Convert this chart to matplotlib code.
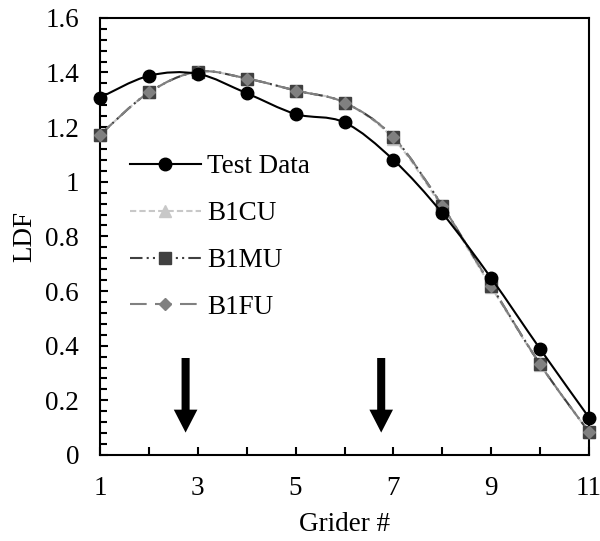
import matplotlib
matplotlib.use('Agg')
import matplotlib.pyplot as plt
from matplotlib.path import Path
from matplotlib.patches import PathPatch
from matplotlib.ticker import MultipleLocator, FixedLocator
import numpy as np

# girder distribution factors
girder = [1, 2, 3, 4, 5, 6, 7, 8, 9, 10, 11]
test_data = [1.308, 1.388, 1.395, 1.324, 1.248, 1.217, 1.080, 0.885, 0.647, 0.388, 0.137]
b1cu = [1.172, 1.327, 1.403, 1.378, 1.334, 1.290, 1.158, 0.905, 0.615, 0.330, 0.083]
b1mu = [1.172, 1.327, 1.403, 1.378, 1.334, 1.290, 1.163, 0.912, 0.620, 0.332, 0.083]
b1fu = [1.172, 1.327, 1.403, 1.378, 1.334, 1.290, 1.163, 0.912, 0.620, 0.332, 0.083]
arrow_x = [2.75, 6.75]
x_labels = [1, 3, 5, 7, 9, 11]
y_labels = ['0', '0.2', '0.4', '0.6', '0.8', '1', '1.2', '1.4', '1.6']

plt.rcParams['font.family'] = ['Liberation Serif', 'DejaVu Serif']
FS = 19.5


def smooth_path(x, y):
    # Catmull-Rom style bezier through the points (like spreadsheet smoothed lines)
    x = np.asarray(x, float)
    y = np.asarray(y, float)
    verts = [(x[0], y[0])]
    codes = [Path.MOVETO]
    n = len(x)
    for i in range(n - 1):
        p0 = (x[max(i - 1, 0)], y[max(i - 1, 0)])
        p1 = (x[i], y[i])
        p2 = (x[i + 1], y[i + 1])
        p3 = (x[min(i + 2, n - 1)], y[min(i + 2, n - 1)])
        c1 = (p1[0] + (p2[0] - p0[0]) / 6, p1[1] + (p2[1] - p0[1]) / 6)
        c2 = (p2[0] - (p3[0] - p1[0]) / 6, p2[1] - (p3[1] - p1[1]) / 6)
        verts += [c1, c2, p2]
        codes += [Path.CURVE4] * 3
    return Path(verts, codes)


fig = plt.figure(figsize=(6, 5.41), dpi=100)
ax = fig.add_axes([0.1667, 0.159, 0.815, 0.808])

series = [
    (b1cu, 'B1CU', '#c8c8c8', (0, (3, 1.5)), '^', '#c8c8c8', 9),
    (b1mu, 'B1MU', '#404040', (0, (6, 2, 1, 2, 1, 2)), 's', '#404040', 8),
    (b1fu, 'B1FU', '#808080', (0, (8, 4)), 'D', '#808080', 6.5),
]

for vals, name, col, ls, mk, mcol, ms in series:
    ax.add_patch(PathPatch(smooth_path(girder, vals), fill=False, edgecolor=col,
                           linewidth=1.5, linestyle=ls, zorder=2))
    ax.plot(girder, vals, linestyle='none', marker=mk, color=mcol, markersize=ms,
            zorder=3, clip_on=False)

ax.add_patch(PathPatch(smooth_path(girder, test_data), fill=False, edgecolor='black',
                       linewidth=1.5, zorder=4))
ax.plot(girder, test_data, linestyle='none', marker='o', color='black', markersize=9,
        zorder=5, clip_on=False)

# legend handles
handles = [ax.plot([], [], color='black', lw=1.5, marker='o', markersize=9)[0]]
for vals, name, col, ls, mk, mcol, ms in series:
    handles.append(ax.plot([], [], color=col, lw=1.5, ls=ls, marker=mk, markerfacecolor=mcol,
                           markeredgecolor=mcol, markersize=ms)[0])
ax.legend(handles, ['Test Data', 'B1CU', 'B1MU', 'B1FU'], loc='upper left',
          bbox_to_anchor=(0.012, 0.744), frameon=False, fontsize=FS, handlelength=2.6,
          labelspacing=0.81, handletextpad=0.25)

for xa in arrow_x:
    ax.annotate('', xy=(xa, 0.082), xytext=(xa, 0.355),
                arrowprops=dict(arrowstyle='simple,head_length=1.65,head_width=1.7,tail_width=0.58',
                                color='black', lw=0, shrinkA=0, shrinkB=0))

ax.set_xlim(1, 11)
ax.set_ylim(0, 1.6)
ax.xaxis.set_major_locator(FixedLocator(x_labels))
ax.xaxis.set_minor_locator(MultipleLocator(1))
ax.set_yticks(np.arange(0, 1.61, 0.2))
ax.set_yticklabels(y_labels)
ax.yaxis.set_minor_locator(MultipleLocator(0.04))
ax.tick_params(which='both', direction='in', width=1.5, labelsize=FS, color='black')
ax.tick_params(which='major', length=6, pad=15)
ax.tick_params(axis='x', which='minor', length=6)
ax.tick_params(axis='y', which='minor', length=5)
for s in ax.spines.values():
    s.set_linewidth(1.5)
ax.set_xlabel('Grider #', fontsize=FS, labelpad=8)
ax.set_ylabel('LDF', fontsize=FS, labelpad=6)

plt.savefig('out.png', dpi=100)
